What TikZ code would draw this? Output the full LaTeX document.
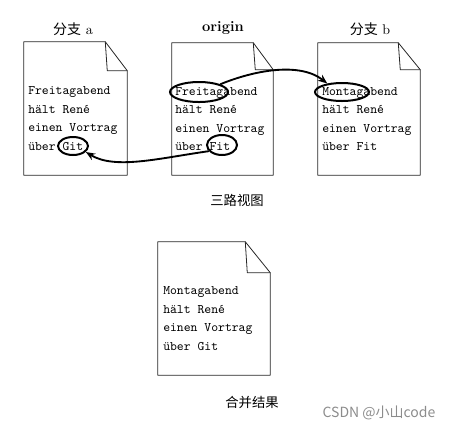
\documentclass[tikz,border=0pt]{standalone}
\usepackage{fontspec}
\newfontfamily\cjk{Noto Sans CJK SC}
\usetikzlibrary{arrows.meta,calc,shapes.geometric}
\tikzset{
    page/.style = {draw=none, rectangle, inner sep=0pt},
    page-line/.style = {draw=black!85, line width=0.6pt, line join=round},
    page-text/.style = {anchor=north west, inner sep=0pt, align=left, font=\ttfamily\fontsize{9.8}{13.9}\selectfont},
    page-title/.style = {inner sep=0pt, font=\fontsize{10.5}{12}\selectfont},
    caption/.style = {inner sep=0pt, font=\cjk\fontsize{10}{12}\selectfont},
    ring/.style = {draw, ellipse, line width=1.5pt, inner sep=0pt},
    change-arrow/.style = {line width=1.4pt, -{Stealth[length=7pt,width=5.5pt]}},
    watermark/.style = {inner sep=0pt, text=black!45, font=\cjk\fontsize{10.5}{12}\selectfont},
}
% page outline with a folded corner: node, fold width, fold depth
\newcommand{\dogear}[3]{%
    \draw[page-line] (#1.north west) -- ($(#1.north east)+(-#2,0)$) -- ($(#1.north east)+(0,#3)$) -- (#1.south east) -- (#1.south west) -- cycle;
    \draw[page-line] ($(#1.north east)+(-#2,0)$) -- ($(#1.north east)+(2-#2,#3)$) -- ($(#1.north east)+(0,#3)$);
}
\begin{document}
\begin{tikzpicture}[x=0.75pt, y=-0.75pt]
\useasboundingbox (0,0) rectangle (452,430);

% three-way view
\node[page, minimum width=77.25pt, minimum height=99.75pt] (doc-a) at (75.5,108.5) {};
\node[page, minimum width=75.75pt, minimum height=99pt] (doc-origin) at (222.5,109) {};
\node[page, minimum width=76.5pt, minimum height=99pt] (doc-b) at (369,109) {};
\dogear{doc-a}{22}{29}
\dogear{doc-origin}{20}{27}
\dogear{doc-b}{22}{27}

\node[page-title] (title-a) at (73,29) {{\cjk 分支} a};
\node[page-title, font=\bfseries\fontsize{11}{12}\selectfont] (title-origin) at (223,28) {origin};
\node[page-title] (title-b) at (370,29) {{\cjk 分支} b};

\node[page-text] (text-a) at (28,86.5) {Freitagabend\\hält René\\einen Vortrag\\über Git};
\node[page-text] (text-origin) at (175,87) {Freitagabend\\hält René\\einen Vortrag\\über Fit};
\node[page-text] (text-b) at (322,87) {Montagabend\\hält René\\einen Vortrag\\über Fit};

\node[caption] (caption-view) at (237,200) {三路视图};

% changes
\node[ring, minimum width=22.5pt, minimum height=13.5pt] (ring-git) at (73,146) {};
\node[ring, minimum width=22.5pt, minimum height=15pt] (ring-fit) at (222,145) {};
\node[ring, minimum width=43.5pt, minimum height=15pt] (ring-freitag) at (199,92) {};
\node[ring, minimum width=40.5pt, minimum height=13.5pt] (ring-montag) at (342,92) {};

\draw[change-arrow] (ring-freitag.20) .. controls (255,70) and (300,62) .. (ring-montag.150);
\draw[change-arrow] (ring-fit.205) .. controls (160,158) and (115,170) .. (ring-git.335);

% merge result
\node[page, minimum width=84pt, minimum height=99.75pt] (doc-merged) at (214,308.5) {};
\dogear{doc-merged}{25}{31}
\node[page-text] (text-merged) at (163,286.5) {Montagabend\\hält René\\einen Vortrag\\über Git};
\node[caption] (caption-merged) at (252,402) {合并结果};

\node[watermark] (csdn) at (379,413) {CSDN @小山code};
\end{tikzpicture}
\end{document}
